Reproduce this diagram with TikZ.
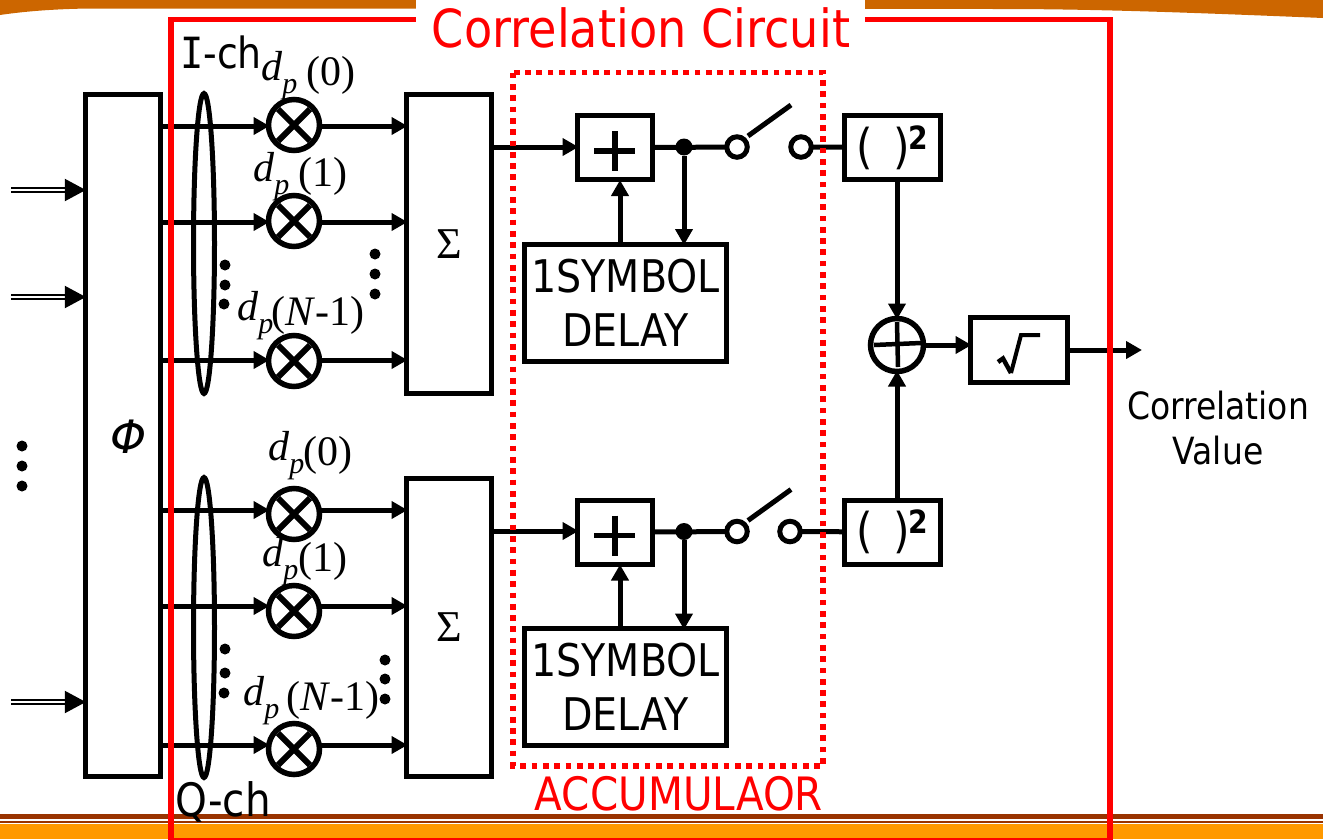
\documentclass[tikz,border=0pt]{standalone}
\usepackage{fontspec}
\setmainfont{Liberation Serif}
\newfontfamily\tah{DejaVu Sans}[FakeStretch=0.88]
\newfontfamily\tahw{DejaVu Sans}
\newfontfamily\tahm{DejaVu Sans Mono}[FakeStretch=0.9]
\usetikzlibrary{arrows.meta}
\definecolor{topbar}{HTML}{CC6600}
\definecolor{botdark}{HTML}{993300}
\definecolor{botor}{HTML}{FF9900}
\tikzset{
  x=1pt,y=-1pt,
  box/.style={draw=black,line width=5pt,fill=white,minimum width=0pt,minimum height=0pt,inner sep=0pt,outer sep=0pt},
  wire/.style={draw=black,line width=5pt},
  arr/.style={wire,-{Triangle[length=16pt,width=17pt]},shorten >=-1pt},
  dbl/.style={draw=black,line width=2.2pt,double=white,double distance=2pt,-{Triangle[length=21pt,width=22pt]}},
  mult/.style={draw=black,line width=5.5pt,fill=white,circle,minimum size=51pt,inner sep=0pt,outer sep=0pt},
  port/.style={draw=black,line width=5pt,fill=white,circle,minimum size=20.5pt,inner sep=0pt,outer sep=0pt},
  junc/.style={fill=black,circle,minimum size=17pt,inner sep=0pt},
  dotm/.style={fill=black,circle,minimum size=11pt,inner sep=0pt},
  redbox/.style={draw=red,line width=5.5pt},
  lab/.style={font=\tah\fontsize{46}{46}\selectfont,inner sep=0pt},
  math/.style={font=\fontsize{42}{42}\selectfont,inner sep=0pt,anchor=base west},
}
\newcommand{\dpl}[2]{\raisebox{5pt}{\textit{d}}\raisebox{-8pt}{\fontsize{30}{30}\selectfont\textit{p}}\hspace{#1}#2}
\newcommand{\putX}[1]{\draw[black,line width=6pt] ([shift={(-16,-16)}]#1.center) -- ([shift={(16,16)}]#1.center) ([shift={(16,-16)}]#1.center) -- ([shift={(-16,16)}]#1.center);}
\begin{document}
\begin{tikzpicture}
\useasboundingbox (0,0) rectangle (1323,839);
% page furniture
\fill[topbar] (0,0) -- (1323,0) -- (1323,18) .. controls (1200,13) and (1100,9) .. (1000,9) -- (90,8.5) .. controls (50,9) and (20,12) .. (0,15) -- cycle;
\fill[botdark] (0,814) rectangle (1323,819);
\fill[botdark] (0,821) rectangle (1323,822.5);
\fill[botor] (0,824) rectangle (1323,839);
% phase block
\node[box,minimum width=75pt,minimum height=682pt] (phi) at (123.3,435.5) {};
\node[font=\tahw\fontsize{46}{46}\selectfont\itshape,inner sep=0pt] (philab) at (129,437) {Φ};
% inputs
\coordinate (in1) at (11,190); \coordinate (in2) at (11,297); \coordinate (in3) at (11,702);
\draw[dbl] (in1) -- (in1-|phi.west);
\draw[dbl] (in2) -- (in2-|phi.west);
\draw[dbl] (in3) -- (in3-|phi.west);
\foreach \n/\y in {a/446,b/466,c/486}{\node[dotm] (l\n) at (22,\y) {};}
% sum blocks
\node[box,minimum width=85pt,minimum height=299pt,font=\fontsize{44}{44}\selectfont] (s1) at (449,244) {\raisebox{-3pt}{Σ}};
\node[box,minimum width=85pt,minimum height=298pt,font=\fontsize{44}{44}\selectfont] (s2) at (449,627.5) {\raisebox{-3pt}{Σ}};
% labels
\node[lab,anchor=west,font=\tah\fontsize{43}{43}\selectfont] (ich) at (180,52) {{\tahm I}-ch};
\node[lab,anchor=west] (qch) at (175,802) {Q-ch};
\node[math] (li0) at (261,85) {\dpl{9pt}{(0)}};
\node[math] (li1) at (253,186) {\dpl{9pt}{(1)}};
\node[math] (li2) at (237,325) {\dpl{-2pt}{(\textit{N}-1)}};
\node[math] (lq0) at (268,465) {\dpl{-1pt}{(0)}};
\node[math] (lq1) at (262,571) {\dpl{0pt}{(1)}};
\node[math] (lq2) at (243,710) {\dpl{7pt}{(\textit{N}-1)}};
% multipliers
\foreach \n/\y in {i0/125,i1/221,i2/361,q0/514,q1/611,q2/749}{
  \node[mult] (\n) at (294,\y) {};
  \putX{\n}
}
% wires phi -> mult -> sum
\foreach \n/\y in {i0/126,i1/222,i2/360,q0/510,q1/606,q2/745}{
  \coordinate (l\n) at (phi.east|-0,\y);
  \coordinate (r\n) at (s1.west|-0,\y);
  \draw[arr] (l\n) -- (\n.west|-0,\y);
  \draw[arr] (\n.east|-0,\y) -- (r\n);
}
% ellipses
\draw[black,line width=5pt] (204,243.5) ellipse (10.5 and 150);
\draw[black,line width=5pt] (204,627.5) ellipse (10.5 and 150);
% dots
\foreach \n/\x/\y in {a/225/265,b/225/285,c/224/304,d/375/254,e/375/274,f/375/294,
                      g/225/649,h/225/673,i/224/693,j/385/660,k/385/679,l/385/699}{\node[dotm] (d\n) at (\x,\y) {};}
% accumulators
\foreach \t/\dy/\xs in {u/0/0,v/384.5/-11}{
  \begin{scope}[yshift=-\dy pt]
  \node[box,minimum width=75pt,minimum height=64pt] (add\t) at (615,147.5) {};
  \draw[black,line width=5.5pt] (594,151) -- (635,151) (615,131) -- (615,171);
  \node[box,minimum width=202pt,minimum height=117pt,align=center,font=\tah\fontsize{45}{54}\selectfont] (del\t) at (625.5,302.5) {1SYMBOL\\DELAY};
  \node[junc] (j\t) at (684,147) {};
  \node[port] (pa\t) at (737,147) {};
  \node[port] (pb\t) at (801+\xs,147) {};
  \coordinate (st\t) at (791,105);
  \draw[black,line width=5pt] (748,136) -- (st\t);
  \node[box,minimum width=96pt,minimum height=64pt,font=\tah\fontsize{48}{48}\selectfont] (sq\t) at (892.5,147.5) {\raisebox{-5pt}{(\hspace{20pt})}\hspace{-1pt}\raisebox{9pt}{\fontsize{32}{32}\selectfont\bfseries 2}};
  \draw[wire] (add\t.east) -- (pa\t);
  \draw[wire] (pb\t) -- (sq\t);
  \draw[arr] (j\t) -- (j\t|-del\t.north);
  \draw[arr] (620,242) -- (620,181);
  \end{scope}
}
\coordinate (mu) at (s1.east|-0,147);
\coordinate (mv) at (s2.east|-0,531);
\draw[arr] (mu) -- (addu.west|-mu);
\draw[arr] (mv) -- (addv.west|-mv);
% combiner
\node[mult,minimum size=53pt] (sum) at (897,345) {};
\draw[black,line width=4.5pt] (874,345) -- (921,343) (897,322) -- (898,367);
\draw[arr] (squ.south-|sum) -- (sum.north);
\draw[arr] (sqv.north-|sum) -- (sum.south);
\node[box,minimum width=97pt,minimum height=65pt] (rt) at (1019,350) {};
\draw[black,line width=4.5pt] (998,362) -- (1003,358.5) -- (1011,373);
\draw[black,line width=4pt] (1011,373) -- (1021,335) -- (1040,335);
\draw[arr] (sum.east) -- (rt.west|-sum.east);
\coordinate (out) at (1141,350);
\draw[arr] (rt.east) -- (out);
\node[align=center,inner sep=0pt,font=\tah\fontsize{37.5}{45}\selectfont] (cv) at (1218,428) {Correlation\\Value};
% correlation frame
\draw[redbox] (171,19.5) rectangle (1110,841);
\fill[white] (416,0) rectangle (865,30);
\node[lab,text=red,font=\tah\fontsize{52.5}{53}\selectfont] (ctitle) at (641,28) {Correlation Circuit};
% accumulator frame
\draw[draw=red,line width=5.5pt,dash pattern=on 5.7pt off 5.6pt] (513,72.7) rectangle (823,766);
\node[lab,text=red,font=\tah\fontsize{46}{46}\selectfont] (acclab) at (679,794) {ACCUMULAOR};
\end{tikzpicture}
\end{document}
